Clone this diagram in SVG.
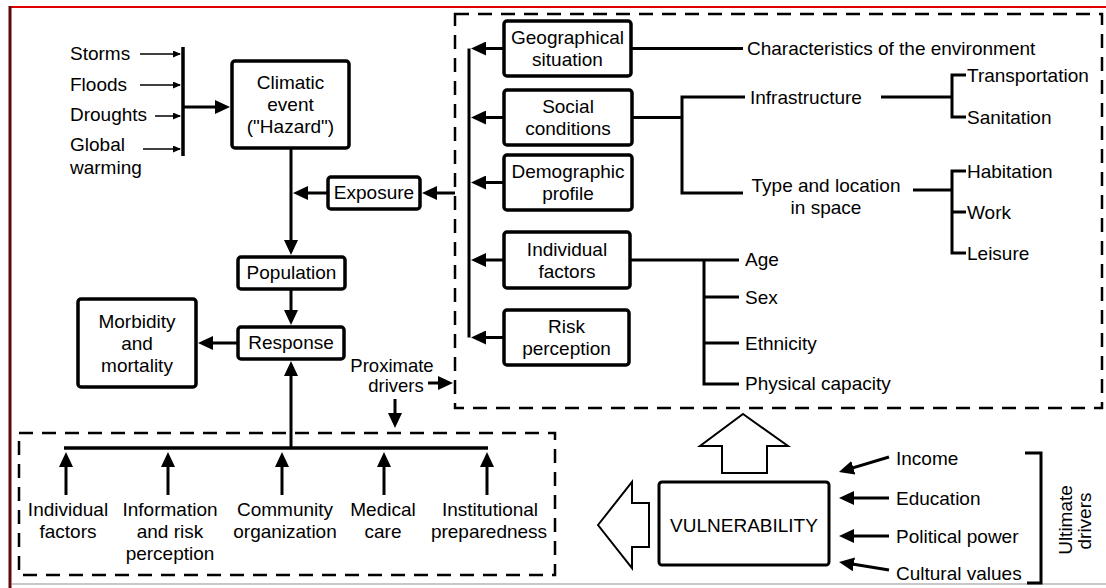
<svg xmlns="http://www.w3.org/2000/svg" width="1106" height="588" viewBox="0 0 1106 588">
<style>
.box{fill:#fff;stroke:#000;stroke-width:3.5}
.ln{fill:none;stroke:#000;stroke-width:3}
.thin{fill:none;stroke:#000;stroke-width:1.5}
.dash{fill:none;stroke:#000;stroke-width:2.5;stroke-dasharray:14 9}
.blk{fill:#fff;stroke:#000;stroke-width:2}
text{font-family:"Liberation Sans",Arial,sans-serif;font-size:19px;fill:#000}
.c{text-anchor:middle}
</style>
<defs>
<marker id="ah" viewBox="0 0 15 14" refX="11" refY="7" markerWidth="15" markerHeight="14" markerUnits="userSpaceOnUse" orient="auto"><path d="M0,0 L15,7 L0,14 z" fill="#000"/></marker>
<marker id="as" viewBox="0 0 8 7" refX="7" refY="3.5" markerWidth="8" markerHeight="7" markerUnits="userSpaceOnUse" orient="auto"><path d="M0,0 L8,3.5 L0,7 z" fill="#000"/></marker>
</defs>
<rect width="1106" height="588" fill="#fff"/>
<g id="frame">
<line x1="9" y1="7" x2="1106" y2="7" stroke="#e00000" stroke-width="2"/>
<line x1="10" y1="6" x2="10" y2="588" stroke="#5a0a0a" stroke-width="3"/>
<line x1="12" y1="584" x2="1106" y2="584" stroke="#c8c8c8" stroke-width="2"/>
</g>
<g id="groups">
<rect class="dash" x="455" y="14" width="647" height="394"/>
<rect class="dash" x="19" y="433" width="536" height="142"/>
</g>
<g id="connectors">
<line class="thin" x1="140" y1="54" x2="180" y2="54" marker-end="url(#as)"/>
<line class="thin" x1="140" y1="85" x2="180" y2="85" marker-end="url(#as)"/>
<line class="thin" x1="155" y1="116" x2="180" y2="116" marker-end="url(#as)"/>
<line class="thin" x1="143" y1="149" x2="180" y2="149" marker-end="url(#as)"/>
<line class="ln" x1="183" y1="47" x2="183" y2="156" style="stroke-width:3.5"/>
<line class="ln" x1="183" y1="107" x2="226" y2="107" marker-end="url(#ah)"/>
<line class="ln" x1="291" y1="148" x2="291" y2="251" marker-end="url(#ah)"/>
<line class="ln" x1="328" y1="193" x2="297" y2="193" marker-end="url(#ah)"/>
<line class="ln" x1="455" y1="193" x2="426" y2="193" marker-end="url(#ah)"/>
<line class="ln" x1="291" y1="289" x2="291" y2="321" marker-end="url(#ah)"/>
<line class="ln" x1="238" y1="343" x2="202" y2="343" marker-end="url(#ah)"/>
<line class="ln" x1="291" y1="448" x2="291" y2="365" marker-end="url(#ah)"/>
<line class="ln" x1="428" y1="383" x2="449" y2="383" marker-end="url(#ah)"/>
<line class="ln" x1="395" y1="399" x2="395" y2="424" marker-end="url(#ah)"/>
<line class="ln" x1="64" y1="448" x2="488" y2="448" style="stroke-width:3.5"/>
<line class="ln" x1="66" y1="495" x2="66" y2="456" marker-end="url(#ah)"/>
<line class="ln" x1="168" y1="495" x2="168" y2="456" marker-end="url(#ah)"/>
<line class="ln" x1="282" y1="495" x2="282" y2="456" marker-end="url(#ah)"/>
<line class="ln" x1="384" y1="495" x2="384" y2="456" marker-end="url(#ah)"/>
<line class="ln" x1="487" y1="495" x2="487" y2="456" marker-end="url(#ah)"/>
<line class="ln" x1="469" y1="48.5" x2="469" y2="337.5"/>
<line class="ln" x1="504" y1="48.5" x2="475" y2="48.5" marker-end="url(#ah)"/>
<line class="ln" x1="504" y1="117.5" x2="475" y2="117.5" marker-end="url(#ah)"/>
<line class="ln" x1="504" y1="182.5" x2="475" y2="182.5" marker-end="url(#ah)"/>
<line class="ln" x1="504" y1="260" x2="475" y2="260" marker-end="url(#ah)"/>
<line class="ln" x1="504" y1="337.5" x2="475" y2="337.5" marker-end="url(#ah)"/>
<line class="ln" x1="631" y1="48.5" x2="743" y2="48.5"/>
<line class="ln" x1="632" y1="117.5" x2="682" y2="117.5"/>
<path class="ln" d="M745,97 H682 V193 H743"/>
<line class="ln" x1="881" y1="97" x2="952" y2="97"/>
<path class="ln" d="M966,75 H952 V117 H966"/>
<line class="ln" x1="913" y1="190" x2="952" y2="190"/>
<path class="ln" d="M966,171 H952 V253 H966 M952,212 H966"/>
<line class="ln" x1="630" y1="260" x2="739" y2="260"/>
<path class="ln" d="M704,260 V384 H739 M704,297 H739 M704,343 H739"/>
<line class="ln" x1="889" y1="457" x2="842.8" y2="470.9" marker-end="url(#ah)"/>
<line class="ln" x1="889" y1="498" x2="843" y2="498" marker-end="url(#ah)"/>
<line class="ln" x1="889" y1="536" x2="843" y2="536" marker-end="url(#ah)"/>
<line class="ln" x1="889" y1="570" x2="843" y2="562.6" marker-end="url(#ah)"/>
<path class="ln" d="M1025,453 H1041 V583 H1027"/>
</g>
<g id="hazards">
<text x="70" y="60">Storms</text>
<text x="70" y="91">Floods</text>
<text x="70" y="121">Droughts</text>
<text x="70" y="151">Global</text>
<text x="70" y="174">warming</text>
</g>
<g id="climatic"><rect class="box" x="232" y="61" width="117" height="87" rx="3"/><text class="c" x="290.5" y="89">Climatic<tspan x="290.5" dy="22">event</tspan><tspan x="290.5" dy="22">("Hazard")</tspan></text></g>
<g id="exposure"><rect class="box" x="328" y="177" width="92" height="32" rx="3"/><text class="c" x="374" y="199">Exposure</text></g>
<g id="population"><rect class="box" x="238" y="257" width="107" height="32" rx="3"/><text class="c" x="291.5" y="279">Population</text></g>
<g id="response"><rect class="box" x="238" y="327" width="106" height="32" rx="3"/><text class="c" x="291" y="349">Response</text></g>
<g id="morbidity"><rect class="box" x="78" y="299" width="118" height="88" rx="3"/><text class="c" x="137" y="328">Morbidity<tspan x="137" dy="22">and</tspan><tspan x="137" dy="22">mortality</tspan></text></g>
<g id="proximate"><text class="c" x="392" y="372" style="font-size:18.5px">Proximate<tspan x="396" dy="20">drivers</tspan></text></g>
<g id="geo"><rect class="box" x="504" y="21" width="127" height="55" rx="3"/><text class="c" x="567.5" y="44">Geographical<tspan x="567.5" dy="22">situation</tspan></text></g>
<g id="social"><rect class="box" x="504" y="90" width="128" height="55" rx="3"/><text class="c" x="568" y="113">Social<tspan x="568" dy="22">conditions</tspan></text></g>
<g id="demo"><rect class="box" x="504" y="155" width="128" height="55" rx="3"/><text class="c" x="568" y="178">Demographic<tspan x="568" dy="22">profile</tspan></text></g>
<g id="indiv"><rect class="box" x="504" y="232" width="126" height="56" rx="3"/><text class="c" x="567" y="256">Individual<tspan x="567" dy="22">factors</tspan></text></g>
<g id="risk"><rect class="box" x="504" y="310" width="125" height="55" rx="3"/><text class="c" x="566.5" y="333">Risk<tspan x="566.5" dy="22">perception</tspan></text></g>
<g id="env"><text x="747" y="55">Characteristics of the environment</text></g>
<g id="infra"><text x="750" y="104">Infrastructure</text></g>
<g id="transport"><text x="967" y="82">Transportation</text></g>
<g id="sanit"><text x="967" y="124">Sanitation</text></g>
<g id="typeloc"><text class="c" x="826" y="192">Type and location<tspan x="826" dy="22">in space</tspan></text></g>
<g id="habit"><text x="967" y="178">Habitation</text></g>
<g id="work"><text x="967" y="219">Work</text></g>
<g id="leisure"><text x="967" y="260">Leisure</text></g>
<g id="age"><text x="745" y="266">Age</text></g>
<g id="sex"><text x="745" y="304">Sex</text></g>
<g id="eth"><text x="745" y="350">Ethnicity</text></g>
<g id="phys"><text x="745" y="390">Physical capacity</text></g>
<g id="b-indiv"><text class="c" x="68" y="516">Individual<tspan x="68" dy="22">factors</tspan></text></g>
<g id="b-info"><text class="c" x="170" y="516">Information<tspan x="170" dy="22">and risk</tspan><tspan x="170" dy="22">perception</tspan></text></g>
<g id="b-comm"><text class="c" x="285" y="516">Community<tspan x="285" dy="22">organization</tspan></text></g>
<g id="b-med"><text class="c" x="383" y="516">Medical<tspan x="383" dy="22">care</tspan></text></g>
<g id="b-inst"><text class="c" x="490" y="516">Institutional<tspan x="489" dy="22">preparedness</tspan></text></g>
<g id="vuln">
<polygon class="blk" points="743,414 788,446 767,446 767,473 722,473 722,446 700,446"/>
<polygon class="blk" points="598,525 632,482 632,503 649,503 649,547 632,547 632,568"/>
<rect class="box" x="659" y="482" width="170" height="83" rx="3" style="stroke-width:3"/>
<text class="c" x="744" y="532">VULNERABILITY</text>
</g>
<g id="income"><text x="896" y="465">Income</text></g>
<g id="educ"><text x="896" y="505">Education</text></g>
<g id="polit"><text x="896" y="543">Political power</text></g>
<g id="cult"><text x="896" y="580">Cultural values</text></g>
<g id="ultimate"><text class="c" transform="translate(1072,520) rotate(-90)">Ultimate</text><text class="c" transform="translate(1091,521) rotate(-90)">drivers</text></g>
</svg>
